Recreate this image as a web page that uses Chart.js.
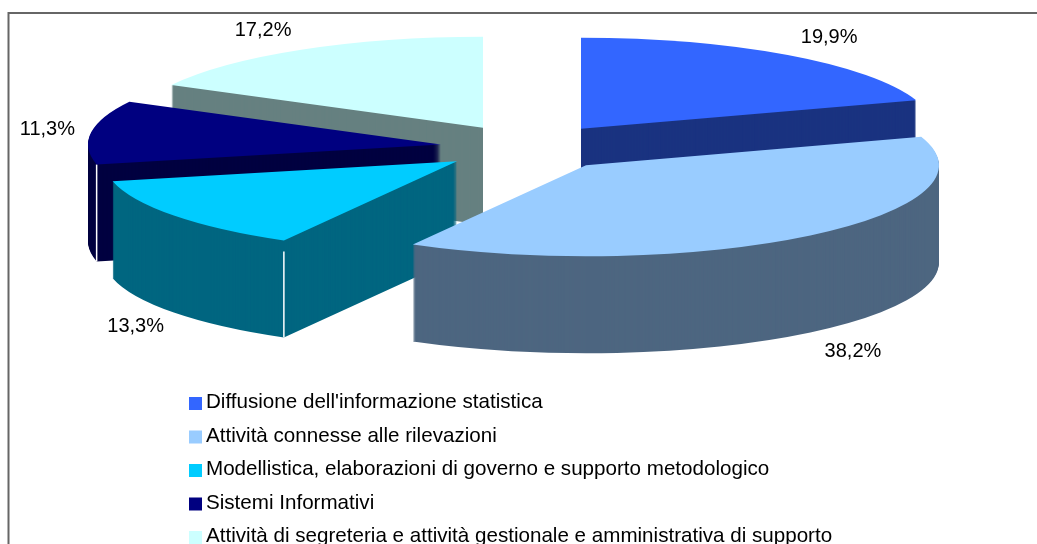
<!DOCTYPE html>
<html>
<head>
<meta charset="utf-8">
<style>html,body{margin:0;padding:0;background:#fff;overflow:hidden}#box{width:1037px;height:544px;position:relative}</style>
<script src="https://cdn.jsdelivr.net/npm/chart.js@4/dist/chart.umd.min.js"></script>
</head>
<body>
<div id="box"><canvas id="c" width="1037" height="544"></canvas></div>
<script>
const categories = [
  "Diffusione dell'informazione statistica",
  "Attività connesse alle rilevazioni",
  "Modellistica, elaborazioni di governo e supporto metodologico",
  "Sistemi Informativi",
  "Attività di segreteria e attività gestionale e amministrativa di supporto"
];
const shares = [19.9, 38.2, 13.3, 11.3, 17.2];
const topColors = ["#3366FF", "#99CCFF", "#00CCFF", "#000080", "#CCFFFF"];
const sideColors = ["#1A3380", "#4D6680", "#006680", "#000040", "#668080"];

const LABEL_FONT = '20px "Liberation Sans", Arial, sans-serif';
const LEGEND_FONT = '20.6px "Liberation Sans", Arial, sans-serif';
const CX = 529, CY = 147.5, R = 353, SQUASH = 91 / 353, DEPTH = 97, EXPLODE = 0.2526;
const labelReach = [1.2, 1.19, 1.135, 1.125, 1.21];
const labelNudgeY = [-3, 6, 7, -1, -3];
const rimStart = [0, 0, 11, 0, 0];

const fmt = v => v.toFixed(1).replace('.', ',') + '%';

const pie3d = {
  id: 'pie3d',
  beforeDatasetsDraw(chart) {
    const ctx = chart.ctx;
    const arcs = chart.getDatasetMeta(0).data;
    const geom = arcs.map((arc, i) => {
      const mid = (arc.startAngle + arc.endAngle) / 2;
      const dx = Math.round(Math.cos(mid) * R * EXPLODE), dy = Math.sin(mid) * R * EXPLODE;
      return { i, arc, mid, dx, dy, apexY: CY + dy * SQUASH };
    });
    const paint = (g, lift, color) => {
      const arc = g.arc, saved = arc.options;
      arc.options = Object.assign({}, saved, { offset: 0, borderWidth: 0, backgroundColor: color, borderColor: color });
      ctx.save();
      ctx.translate(CX, CY + lift);
      ctx.scale(1, SQUASH);
      ctx.translate(g.dx - arc.x, g.dy - arc.y);
      arc.draw(ctx);
      ctx.restore();
      arc.options = saved;
    };
    // back-to-front
    geom.slice().sort((a, b) => a.apexY - b.apexY).forEach(g => {
      for (let d = DEPTH; d > 0; d--) paint(g, d, sideColors[g.i]);
      const s = g.arc.startAngle;
      if (Math.sin(s) > 0) {
        const x = CX + g.dx + Math.cos(s) * R;
        const y = CY + (g.dy + Math.sin(s) * R) * SQUASH;
        ctx.save();
        ctx.strokeStyle = '#fff';
        ctx.lineWidth = 1.5;
        ctx.beginPath();
        ctx.moveTo(x, y + rimStart[g.i]);
        ctx.lineTo(x, y + DEPTH);
        ctx.stroke();
        ctx.restore();
      }
      paint(g, 0, topColors[g.i]);
    });
    // percentage labels
    ctx.save();
    ctx.font = LABEL_FONT;
    ctx.fillStyle = '#000';
    ctx.textAlign = 'center';
    ctx.textBaseline = 'middle';
    geom.forEach(g => {
      const t = labelReach[g.i];
      const x = CX + g.dx + Math.cos(g.mid) * R * t;
      let y = g.apexY + Math.sin(g.mid) * R * SQUASH * t;
      if (Math.sin(g.mid) > 0 && Math.abs(Math.cos(g.mid)) < 0.95) y += DEPTH;
      ctx.fillText(fmt(shares[g.i]), x, y + labelNudgeY[g.i]);
    });
    ctx.restore();
    return false;
  },
  afterDraw(chart) {
    const ctx = chart.ctx;
    ctx.save();
    // frame (runs off the right and bottom of the picture)
    ctx.strokeStyle = '#666';
    ctx.lineWidth = 2;
    ctx.beginPath();
    ctx.moveTo(8.5, 560);
    ctx.lineTo(8.5, 13);
    ctx.lineTo(1050, 13);
    ctx.stroke();
    // legend
    ctx.font = LEGEND_FONT;
    ctx.textAlign = 'left';
    ctx.textBaseline = 'alphabetic';
    categories.forEach((name, i) => {
      const top = 397 + i * 33.5;
      ctx.fillStyle = topColors[i];
      ctx.fillRect(189, top, 13, 13);
      ctx.fillStyle = '#000';
      ctx.fillText(name, 206, top + 11);
    });
    ctx.restore();
  }
};

new Chart(document.getElementById('c'), {
  type: 'pie',
  data: {
    labels: categories,
    datasets: [{ data: shares, backgroundColor: topColors, borderWidth: 0, radius: R }]
  },
  options: {
    responsive: false,
    animation: false,
    events: [],
    layout: { padding: 0 },
    plugins: { legend: { display: false }, tooltip: { enabled: false } }
  },
  plugins: [pie3d]
});
</script>
</body>
</html>
